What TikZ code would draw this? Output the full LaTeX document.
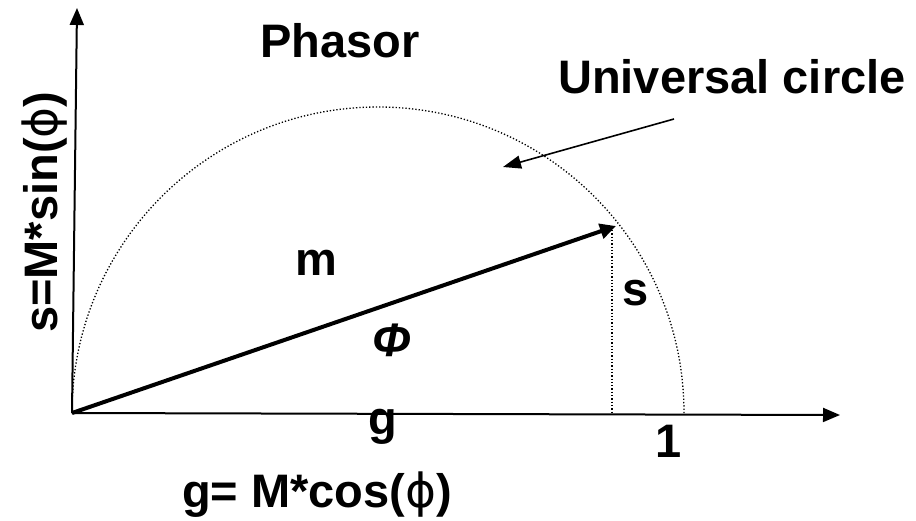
\documentclass[tikz,border=0pt]{standalone}
\usepackage{fontspec}
\setmainfont{Liberation Sans}
\newfontfamily\phifont{DejaVu Sans}
\usetikzlibrary{arrows.meta}

\begin{document}
\begin{tikzpicture}[x=1pt,y=-1pt,>={Triangle[length=17pt,width=14pt]},
  lbl/.style={font=\fontsize{47}{56}\selectfont\bfseries,inner sep=0pt,anchor=base west},
  axis/.style={->,line width=2pt},
  guide/.style={dotted,line width=1.3pt}]
  \useasboundingbox (0,0) rectangle (916,520);

  \coordinate (O) at (72,413);
  \coordinate (xend) at (840,415);
  \coordinate (yend) at (77,8);
  \coordinate (tip) at (616,226);
  \coordinate (stop) at (612,230);
  \coordinate (sfoot) at (612,413);
  \coordinate (ustart) at (674,119);
  \coordinate (uend) at (503,167);

  \draw[axis] (O) -- (xend);
  \draw[axis] (O) -- (yend);
  \draw[guide] (O) arc[start angle=180,end angle=360,radius=306];
  \draw[guide] (stop) -- (sfoot);

  \draw[->,line width=4pt,>={Triangle[length=16pt,width=15pt]}] (O) -- (tip);
  \draw[->,line width=1.6pt,>={Triangle[length=18pt,width=13pt]}] (ustart) -- (uend);

  \node[lbl] (phasor) at (260,57) {Phasor};
  \node[lbl] (ucirc) at (558,93) {Universal circle};
  \node[lbl] (m) at (295,275) {m};
  \node[lbl] (s) at (622,305) {s};
  \node[lbl] (phi) at (372,356) {\itshape Φ};
  \node[lbl] (g) at (368,434) {g};
  \node[lbl] (one) at (655,457) {1};
  \node[lbl] (gcos) at (182,507) {g= M*cos(\phifont\mdseries ϕ\rmfamily\bfseries)};
  \node[lbl,rotate=90] (ssin) at (57,333) {s=M*sin(\phifont\mdseries ϕ\rmfamily\bfseries)};
\end{tikzpicture}
\end{document}
